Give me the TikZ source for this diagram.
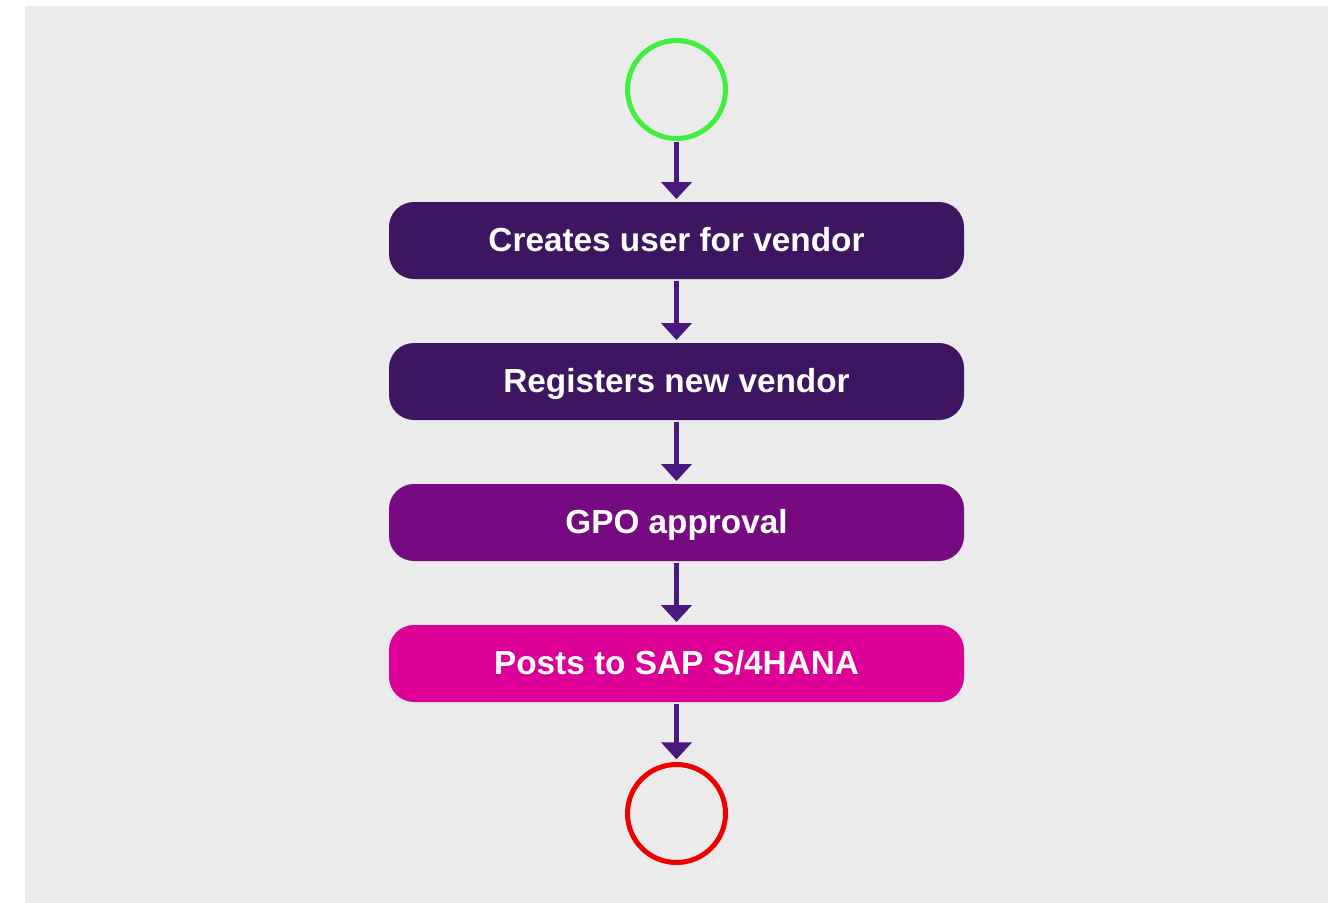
\documentclass[tikz,border=0pt]{standalone}
\usepackage{fontspec}
\setmainfont{Liberation Sans}
\usetikzlibrary{arrows.meta}
\definecolor{bgc}{HTML}{EBEBEB}
\definecolor{darkp}{HTML}{3D1560}
\definecolor{midp}{HTML}{760A80}
\definecolor{pinkp}{HTML}{DC0096}
\definecolor{arrowc}{HTML}{48187E}
\definecolor{startc}{HTML}{40EE40}
\definecolor{endc}{HTML}{EE0000}
\tikzset{
  stepbox/.style={rounded corners=18.75pt, minimum width=431.25pt, minimum height=57.75pt,
    inner sep=0pt, text=white, text height=17.9pt, text depth=1.2pt,
    font=\fontsize{25pt}{30pt}\selectfont\bfseries},
  terminal/.style={circle, draw, line width=3.75pt, minimum size=73.5pt, inner sep=0pt},
  flow/.style={draw=arrowc, line width=3.75pt, -{Triangle[width=22.5pt,length=12.75pt]},
    shorten >=2pt, shorten <=1pt}
}
\begin{document}
\begin{tikzpicture}[x=0.75pt,y=-0.75pt]
\useasboundingbox (0,0) rectangle (1339,903);
\fill[bgc] (25,6) rectangle (1328,903);
\node[terminal, draw=startc] (start) at (676.5,89.5) {};
\node[stepbox, fill=darkp] (s1) at (676.5,240.5) {Creates user for vendor};
\node[stepbox, fill=darkp] (s2) at (676.5,381.5) {Registers new vendor};
\node[stepbox, fill=midp] (s3) at (676.5,522.5) {GPO approval};
\node[stepbox, fill=pinkp] (s4) at (676.5,663.5) {Posts to SAP S/4HANA};
\node[terminal, draw=endc] (end) at (676.5,813.5) {};
\draw[flow] (start) -- (s1);
\draw[flow] (s1) -- (s2);
\draw[flow] (s2) -- (s3);
\draw[flow] (s3) -- (s4);
\draw[flow] (s4) -- (end);
\end{tikzpicture}
\end{document}
